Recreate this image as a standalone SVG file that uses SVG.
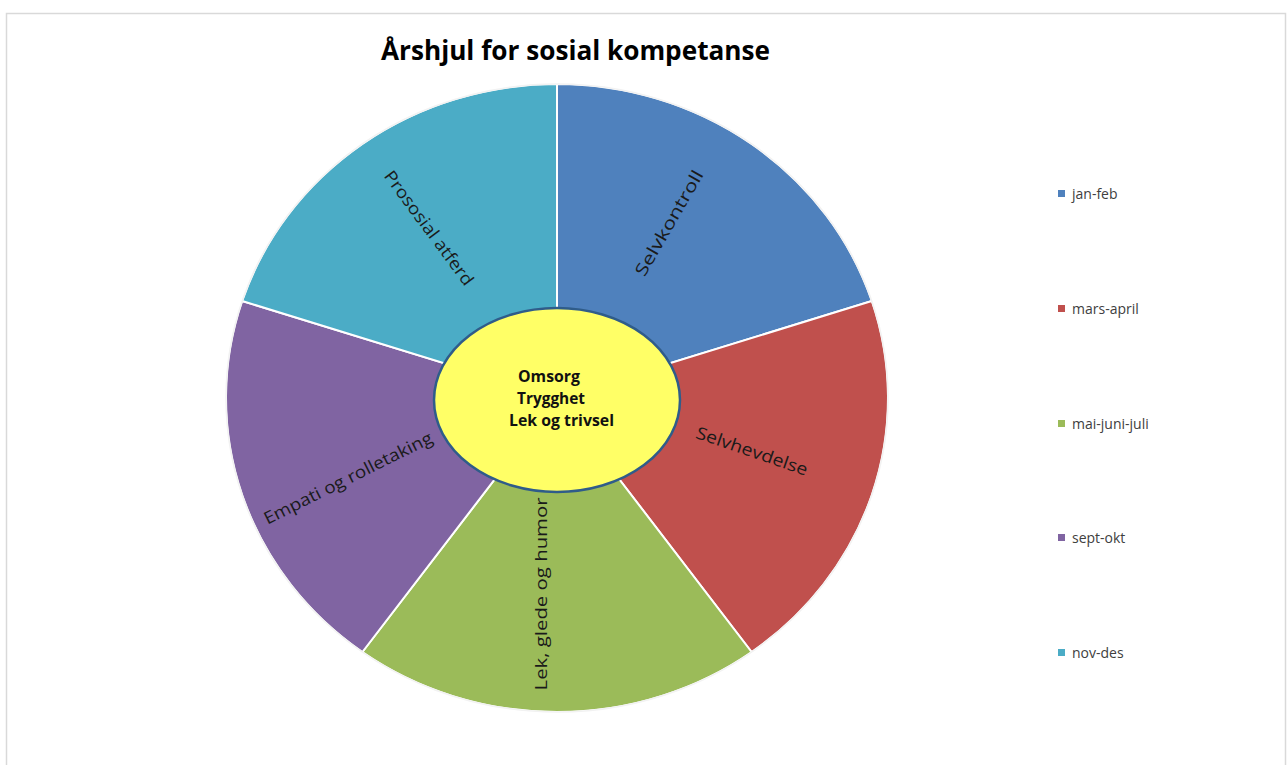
<svg xmlns="http://www.w3.org/2000/svg" width="1287" height="765" viewBox="0 0 1287 765">
<style>
.slice{stroke:#ffffff;stroke-width:2}
.lbl{font-family:"Open Sans","Liberation Sans",sans-serif;font-size:17px;fill:#1a1a1a}
.ctr{font-family:"Open Sans","Liberation Sans",sans-serif;font-size:16.5px;font-weight:bold;fill:#111111}
.leg{font-family:"Open Sans","Liberation Sans",sans-serif;font-size:14px;fill:#404040}
.title{font-family:"Open Sans","Liberation Sans",sans-serif;font-size:26px;font-weight:bold;fill:#000000}
</style>
<rect x="0" y="0" width="1287" height="765" fill="#ffffff"/>
<rect x="6.5" y="13.5" width="1279" height="770" fill="#ffffff" stroke="#d9d9d9" stroke-width="1.5"/>
<text class="title" x="381" y="60" textLength="389" lengthAdjust="spacingAndGlyphs">Årshjul for sosial kompetanse</text>
<g id="pie">
<g id="slice-jan-feb">
<path class="slice" fill="#4F81BD" d="M557,398 L557,84 A331,314 0 0 1 871.8,301 Z"/>
<text class="lbl" transform="translate(669,223) rotate(-60)" text-anchor="middle" dy="6" textLength="119" lengthAdjust="spacingAndGlyphs">Selvkontroll</text>
</g>
<g id="slice-mars-april">
<path class="slice" fill="#C0504D" d="M557,398 L871.8,301 A331,314 0 0 1 751.6,652 Z"/>
<text class="lbl" transform="translate(752,451) rotate(19)" text-anchor="middle" dy="6" textLength="117" lengthAdjust="spacingAndGlyphs">Selvhevdelse</text>
</g>
<g id="slice-mai-juni-juli">
<path class="slice" fill="#9BBB59" d="M557,398 L751.6,652 A331,314 0 0 1 362.4,652 Z"/>
<text class="lbl" transform="translate(541,594) rotate(-90)" text-anchor="middle" dy="6" textLength="193" lengthAdjust="spacingAndGlyphs">Lek, glede og humor</text>
</g>
<g id="slice-sept-okt">
<path class="slice" fill="#8064A2" d="M557,398 L362.4,652 A331,314 0 0 1 242.2,301 Z"/>
<text class="lbl" transform="translate(348,478) rotate(-26.5)" text-anchor="middle" dy="6" textLength="186" lengthAdjust="spacingAndGlyphs">Empati og rolletaking</text>
</g>
<g id="slice-nov-des">
<path class="slice" fill="#4BACC6" d="M557,398 L242.2,301 A331,314 0 0 1 557,84 Z"/>
<text class="lbl" transform="translate(429,228) rotate(53.5)" text-anchor="middle" dy="6" textLength="138" lengthAdjust="spacingAndGlyphs">Prososial atferd</text>
</g>
<ellipse cx="557" cy="398" rx="331" ry="314" fill="none" stroke="#f2f2f2" stroke-width="1.5"/>
</g>
<g id="center">
<ellipse cx="557" cy="400" rx="123" ry="92" fill="#FFFF66" stroke="#2F5C8A" stroke-width="2.5"/>
<text class="ctr" x="518" y="382" textLength="62" lengthAdjust="spacingAndGlyphs">Omsorg</text>
<text class="ctr" x="517" y="404" textLength="68" lengthAdjust="spacingAndGlyphs">Trygghet</text>
<text class="ctr" x="509" y="426" textLength="105" lengthAdjust="spacingAndGlyphs">Lek og trivsel</text>
</g>
<g id="legend">
<rect x="1058" y="190" width="7" height="7" fill="#4F81BD"/>
<text class="leg" x="1072" y="199">jan-feb</text>
<rect x="1058" y="305" width="7" height="7" fill="#C0504D"/>
<text class="leg" x="1072" y="314">mars-april</text>
<rect x="1058" y="420" width="7" height="7" fill="#9BBB59"/>
<text class="leg" x="1072" y="429">mai-juni-juli</text>
<rect x="1058" y="534" width="7" height="7" fill="#8064A2"/>
<text class="leg" x="1072" y="543">sept-okt</text>
<rect x="1058" y="649" width="7" height="7" fill="#4BACC6"/>
<text class="leg" x="1072" y="658">nov-des</text>
</g>
<g id="connectors"/>
</svg>
